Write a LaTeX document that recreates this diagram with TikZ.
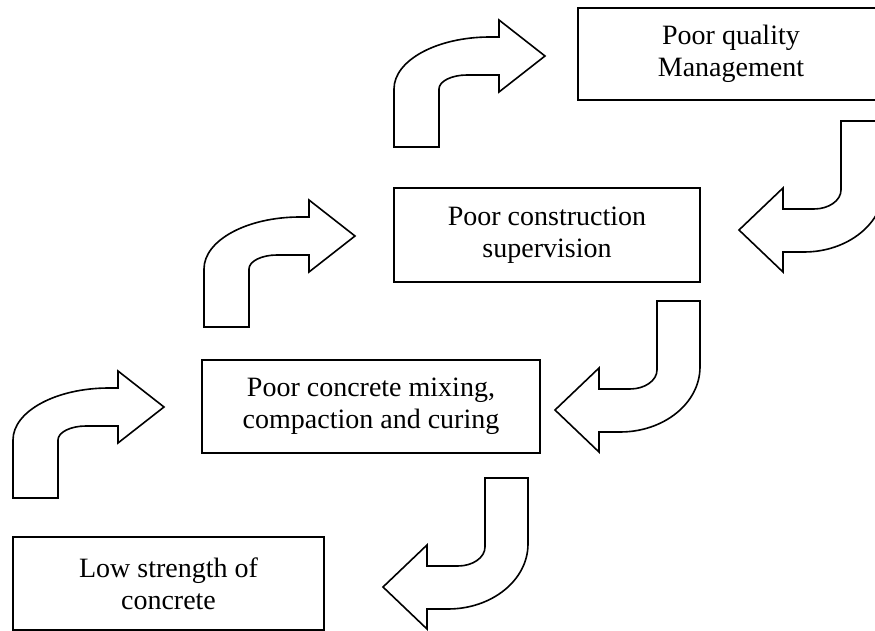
\documentclass[tikz,border=0pt]{standalone}
\usepackage{fontspec}
\setmainfont{Liberation Serif}

\tikzset{
  box/.style    = {rectangle, draw=black, line width=0.9pt, inner sep=0pt},
  txt/.style    = {align=center, inner sep=0pt, font=\fontsize{14pt}{16pt}\selectfont},
  bentarr/.style = {draw=black, fill=white, line width=0.8pt, line join=miter},
  pics/upbend/.style = {code={
    \path[bentarr] (0,0) -- (45,0) -- (45,-58)
      arc[start angle=180, end angle=270, x radius=28, y radius=14]
      -- (105,-72) -- (105,-55) -- (151,-91) -- (105,-127) -- (105,-110) -- (96,-110)
      arc[start angle=270, end angle=180, x radius=96, y radius=52] -- cycle;
  }},
  pics/downbend/.style = {code={
    \path[bentarr] (0,0) -- (-43,0) -- (-43,69)
      arc[start angle=0, end angle=90, x radius=27, y radius=19]
      -- (-101,88) -- (-101,67) -- (-145,109) -- (-101,151) -- (-101,131) -- (-80,131)
      arc[start angle=90, end angle=0, x radius=80, y radius=65] -- cycle;
  }},
}

\begin{document}
\begin{tikzpicture}[x=0.5pt, y=-0.5pt]
  \useasboundingbox[fill=white] (0,0) rectangle (875,631);
  \clip (0,0) rectangle (875,631);

  % boxes
  \node[box, txt, minimum width=153pt, minimum height=46pt] (qm) at (731,54)
    {Poor quality\\Management};
  \node[box, txt, minimum width=153pt, minimum height=47pt] (cs) at (547,235)
    {Poor construction\\supervision};
  \node[box, txt, minimum width=169pt, minimum height=46.5pt] (mix) at (371,406.5)
    {Poor concrete mixing,\\compaction and curing};
  \node[box, txt, minimum width=155.5pt, minimum height=46.5pt] (low) at (168.5,583.5)
    {Low strength of\\concrete};

  % bent arrows
  \pic at (394,147) {upbend};
  \pic at (204,327) {upbend};
  \pic at (13,498) {upbend};
  \pic at (884,121) {downbend};
  \pic at (700,301) {downbend};
  \pic at (528,478) {downbend};
\end{tikzpicture}
\end{document}
